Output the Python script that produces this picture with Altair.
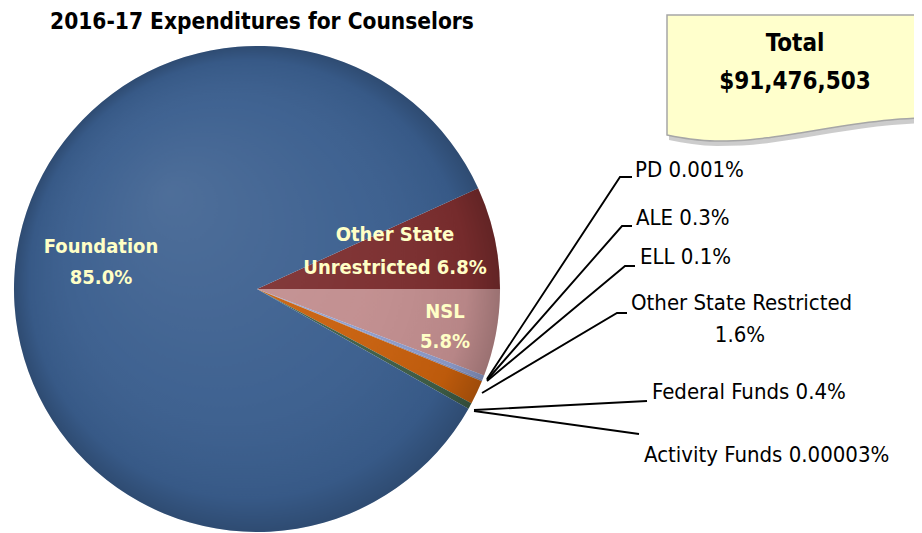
import altair as alt
import pandas as pd
import numpy as np

# ---------------- data ----------------
title_text = "2016-17 Expenditures for Counselors"
total_lines = ["Total", "$91,476,503"]

names = ["Other State Unrestricted", "NSL", "PD", "ALE", "ELL",
         "Other State Restricted", "Federal Funds", "Activity Funds", "Foundation"]
shares = [6.8, 5.8, 0.001, 0.3, 0.1, 1.6, 0.4, 0.00003, 85.0]
share_text = ["6.8%", "5.8%", "0.001%", "0.3%", "0.1%", "1.6%", "0.4%", "0.00003%", "85.0%"]

# ---------------- styles / layout ----------------
colors = ["#7B2D2E", "#C18D8E", "#9AA6D0", "#8E9CCB", "#7F8FBF",
          "#C75F0C", "#3F5E47", "#3A5E8E", "#3A5E8E"]
label_yellow = "#FFFFC6"
FONT = "'DejaVu Sans Condensed', 'Roboto Condensed', Roboto, sans-serif"
CX, CY, R = 257, 289, 243          # pie centre / radius in page pixels
START = np.deg2rad(65.5)           # clockwise from 12 o'clock

W, H = 906, 525
px = lambda f: alt.X(f"{f}:Q", scale=alt.Scale(domain=[8, 8 + W], nice=False, zero=False), axis=None)
py = lambda f: alt.Y(f"{f}:Q", scale=alt.Scale(domain=[8, 8 + H], nice=False, zero=False, reverse=True), axis=None)

pie_df = pd.DataFrame({"name": names, "share": shares, "ord": list(range(len(names)))})

pie = alt.Chart(pie_df).mark_arc(radius=R, stroke=None).encode(
    theta=alt.Theta("share:Q", stack=True, scale=alt.Scale(range=[START, START + 2 * np.pi])),
    order=alt.Order("ord:Q"),
    color=alt.Color("name:N", scale=alt.Scale(domain=names, range=colors), legend=None),
    x=alt.value(CX - 8), y=alt.value(CY - 8),
)

shade = alt.Chart(pd.DataFrame({"k": [0]})).mark_arc(
    radius=R, theta=0, theta2=2 * np.pi,
    fill=alt.RadialGradient(
        gradient="radial", x1=0.32, y1=0.3, r1=0.0, x2=0.5, y2=0.5, r2=0.5,
        stops=[alt.GradientStop(offset=0, color="rgba(255,255,255,0.10)"),
               alt.GradientStop(offset=0.6, color="rgba(255,255,255,0.03)"),
               alt.GradientStop(offset=0.9, color="rgba(0,0,0,0.05)"),
               alt.GradientStop(offset=1, color="rgba(0,0,0,0.2)")]),
).encode(x=alt.value(CX - 8), y=alt.value(CY - 8))

# inside labels
inside_df = pd.DataFrame({
    "t": ["Foundation", "85.0%", "Other State", "Unrestricted 6.8%", "NSL", "5.8%"],
    "x": [101, 101, 395, 395, 445, 445],
    "y": [247, 278, 235, 268, 312, 342],
})
inside = alt.Chart(inside_df).mark_text(
    font=FONT, fontSize=20, fontWeight="bold", color=label_yellow, align="center", baseline="middle"
).encode(x=px("x"), y=py("y"), text="t:N")

# outside labels
out_df = pd.DataFrame({
    "t": ["PD " + share_text[2], "ALE " + share_text[3], "ELL " + share_text[4],
          "Other State Restricted", "Federal Funds " + share_text[6],
          "Activity Funds " + share_text[7]],
    "x": [635, 636, 640, 631, 652, 644],
    "y": [170, 218, 257, 303, 392, 455],
})
outside = alt.Chart(out_df).mark_text(
    font=FONT, fontSize=22, color="black", align="left", baseline="middle"
).encode(x=px("x"), y=py("y"), text="t:N")
osr_pct = alt.Chart(pd.DataFrame({"t": [share_text[5]], "x": [740], "y": [335]})).mark_text(
    font=FONT, fontSize=22, color="black", align="center", baseline="middle"
).encode(x=px("x"), y=py("y"), text="t:N")

# leader lines
lead_rows = []
leads = {
    "PD": [(487, 379), (620, 177), (632, 177)],
    "ALE": [(487, 380), (622, 226), (632, 226)],
    "ELL": [(487, 381), (625, 266), (635, 266)],
    "OSR": [(482, 393), (617, 313), (627, 313)],
    "FED": [(474, 410), (647, 401)],
    "ACT": [(474, 411), (639, 434)],
}
for k, pts in leads.items():
    for i, (a, b) in enumerate(pts):
        lead_rows.append({"g": k, "i": i, "x": a, "y": b})
leaders = alt.Chart(pd.DataFrame(lead_rows)).mark_line(color="black", strokeWidth=1.9).encode(
    x=px("x"), y=py("y"), detail="g:N", order="i:Q")

# title
title = alt.Chart(pd.DataFrame({"t": [title_text], "x": [262], "y": [22]})).mark_text(
    font=FONT, fontSize=22.5, fontWeight="bold", color="black", align="center", baseline="middle"
).encode(x=px("x"), y=py("y"), text="t:N")

# callout box
bx = [667, 690, 715, 740, 770, 800, 830, 860, 890, 921]
by = [135, 139, 141, 140.5, 137.5, 133, 128, 123.5, 120, 118]
box_df = pd.DataFrame({"x": bx, "y": by, "top": [15] * len(bx)})
shadow_df = pd.DataFrame({"x": [v + 2 for v in bx], "y": [v + 5 for v in by], "top": [20] * len(bx)})
shadow = alt.Chart(shadow_df).mark_area(color="#9A9A9A", opacity=0.5, interpolate="monotone").encode(
    x=px("x"), y=py("y"), y2="top:Q")
box = alt.Chart(box_df).mark_area(color="#FFFFCC", stroke="#A6A6A6", strokeWidth=1.5,
                                  interpolate="monotone", opacity=1).encode(
    x=px("x"), y=py("y"), y2="top:Q")
total = alt.Chart(pd.DataFrame({"t": total_lines, "x": [795, 795], "y": [44, 82]})).mark_text(
    font=FONT, fontSize=24, fontWeight="bold", color="black", align="center", baseline="middle"
).encode(x=px("x"), y=py("y"), text="t:N")

chart = alt.layer(pie, shade, inside, leaders, outside, osr_pct, title, shadow, box, total).properties(
    width=W, height=H, padding=0, autosize=alt.AutoSizeParams(type="none")
).configure_view(stroke=None).resolve_scale(color="independent")

chart.save("out.html", embed_options={"renderer": "svg", "actions": False})
